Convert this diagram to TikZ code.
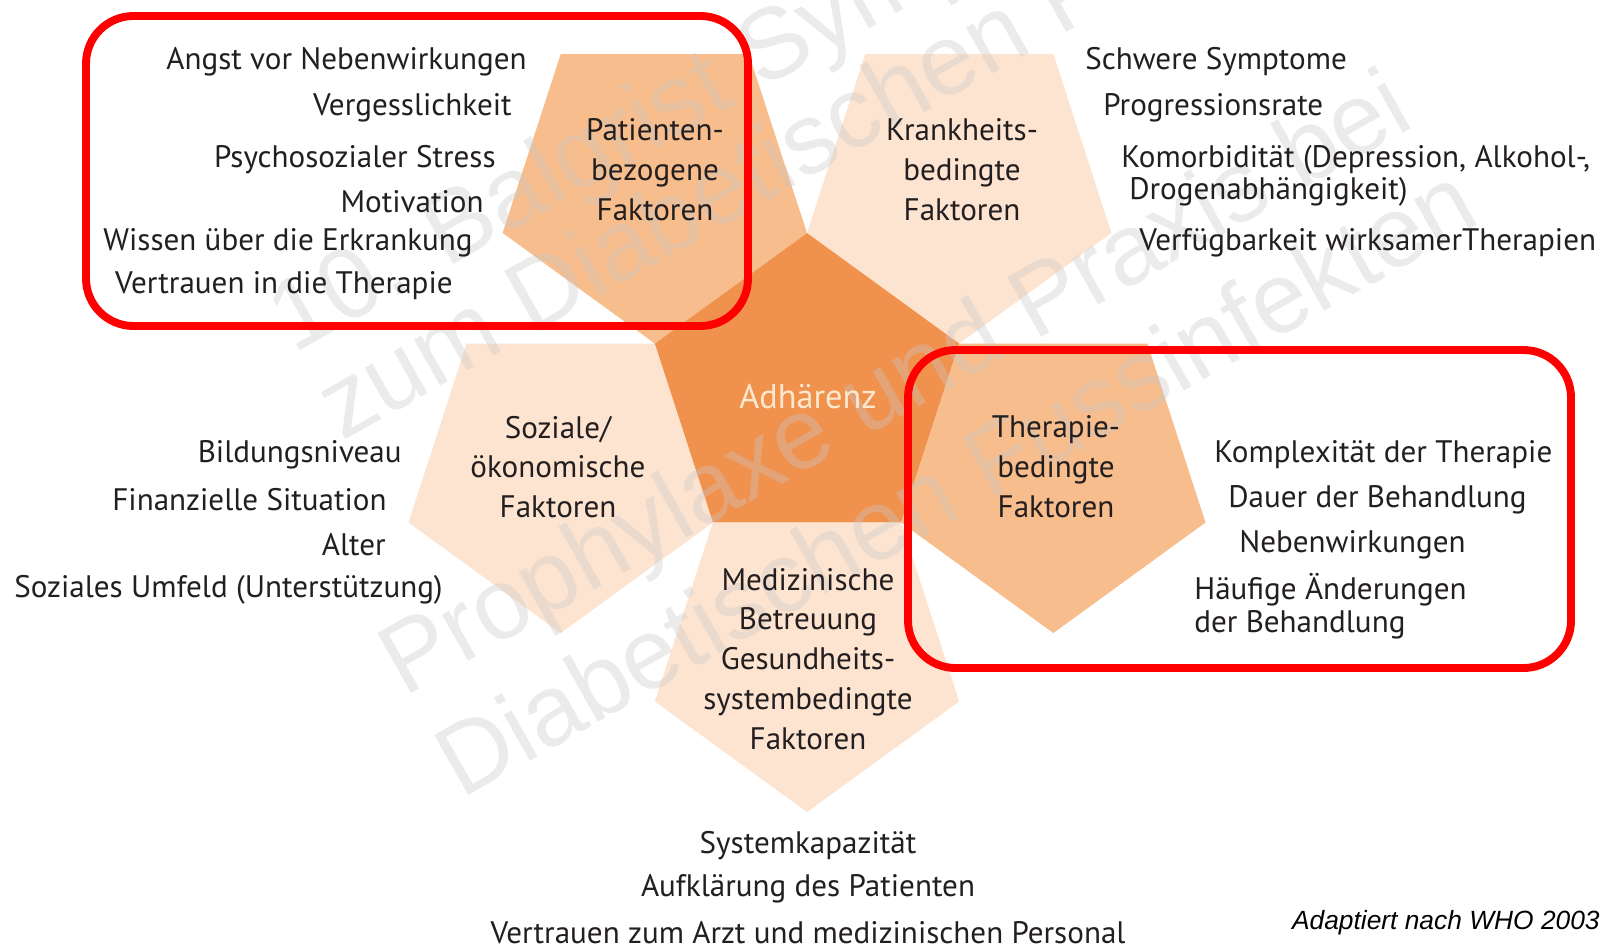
\documentclass[tikz,border=0pt]{standalone}
\usepackage{fontspec}
\setmainfont{PT Sans}
\newfontfamily\arialfont{Liberation Sans}
\definecolor{adark}{HTML}{F0924E}
\definecolor{amid}{HTML}{F8BD8C}
\definecolor{alight}{HTML}{FDE4D0}
\definecolor{atext}{HTML}{231F20}
\definecolor{acream}{HTML}{FCE8CE}
\definecolor{wmark}{HTML}{C8C8C8}
\begin{document}
\begin{tikzpicture}[x=0.02cm, y=-0.02cm]
    \tikzstyle{tx}=[text=atext, inner sep=0pt, font=\fontsize{17.7}{22.7}\selectfont]
    \tikzstyle{lt}=[tx, anchor=east]
    \tikzstyle{rt}=[tx, anchor=west]
    \tikzstyle{ct}=[tx, align=center]
    \tikzstyle{rbox}=[draw=red, line width=4.5pt, rounded corners=0.95cm]
    \tikzstyle{wm}=[anchor=base west, inner sep=0pt, rotate=29.5, text=wmark, opacity=0.35, font=\arialfont\fontsize{57}{60}\selectfont]
    \useasboundingbox (0,0) rectangle (1605,946);
    \fill[white] (0,0) rectangle (1605,946);
    \begin{scope}[shift={(807,393)}]
      \foreach \a/\f in {234/amid, 306/alight, 162/alight, 18/amid, 90/alight} {
        \fill[\f, shift={(\a:259)}] (90:160) -- (162:160) -- (234:160) -- (306:160) -- (18:160) -- cycle;
      }
      \fill[adark] (270:160) -- (342:160) -- (54:160) -- (126:160) -- (198:160) -- cycle;
    \end{scope}
    \node[wm] (w1) at (293,355) {10. Balgrist Symposium};
    \node[wm] (w2) at (342,442) {zum Diabetischen Fuss};
    \node[wm] (w3) at (404,698) {Prophylaxe und Praxis bei};
    \node[wm] (w4) at (461,800) {Diabetischen Fussinfekten};
    \node[ct] (pat) at (655,170) {Patienten-\\bezogene\\Faktoren};
    \node[ct] (kra) at (962,170) {Krankheits-\\bedingte\\Faktoren};
    \node[ct] (soz) at (558,467) {Soziale/\\ökonomische\\Faktoren};
    \node[ct] (the) at (1056,467) {Therapie-\\bedingte\\Faktoren};
    \node[ct] (med) at (808,659) {Medizinische\\Betreuung\\Gesundheits-\\systembedingte\\Faktoren};
    \node[tx, text=acream, font=\fontsize{19.5}{22}\selectfont] (adh) at (808,397) {Adhärenz};
    \foreach \n/\x/\y/\s in {p1/527/62/Angst vor Nebenwirkungen, p2/512/108/Vergesslichkeit,
        p3/496/160/Psychosozialer Stress, p4/484/202/Motivation,
        p5/473/243/Wissen über die Erkrankung, p6/453/286/Vertrauen in die Therapie,
        s1/402/455/Bildungsniveau, s2/387/500/Finanzielle Situation,
        s3/386/545/Alter, s4/443/590/Soziales Umfeld (Unterstützung)} {
      \node[lt] (\n) at (\x,\y) {\s};
    }
    \foreach \n/\x/\y/\s in {k1/1085/62/Schwere Symptome, k2/1103/108/Progressionsrate,
        k4/1139/243/Verfügbarkeit wirksamerTherapien,
        t1/1214/455/Komplexität der Therapie, t2/1228/500/Dauer der Behandlung,
        t3/1239/545/Nebenwirkungen} {
      \node[rt] (\n) at (\x,\y) {\s};
    }
    \node[rt, align=left, font=\fontsize{17.7}{18.5}\selectfont] (k3) at (1121,176) {Komorbidität (Depression, Alkohol-,\\\hspace{4.5pt}Drogenabhängigkeit)};
    \node[rt, align=left, font=\fontsize{17.7}{18.5}\selectfont] (t4) at (1194,606) {Häufige Änderungen\\der Behandlung};
    \node[tx] (m1) at (808,846) {Systemkapazität};
    \node[tx] (m2) at (808,889) {Aufklärung des Patienten};
    \node[tx] (m3) at (808,933) {Vertrauen zum Arzt und medizinischen Personal};
    \node[anchor=east, inner sep=0pt, font=\arialfont\itshape\fontsize{15}{17}\selectfont] (who) at (1600,923) {Adaptiert nach WHO 2003};
    \draw[rbox] (86,16) rectangle (748,326);
    \draw[rbox] (908,350) rectangle (1571,668);
\end{tikzpicture}
\end{document}
